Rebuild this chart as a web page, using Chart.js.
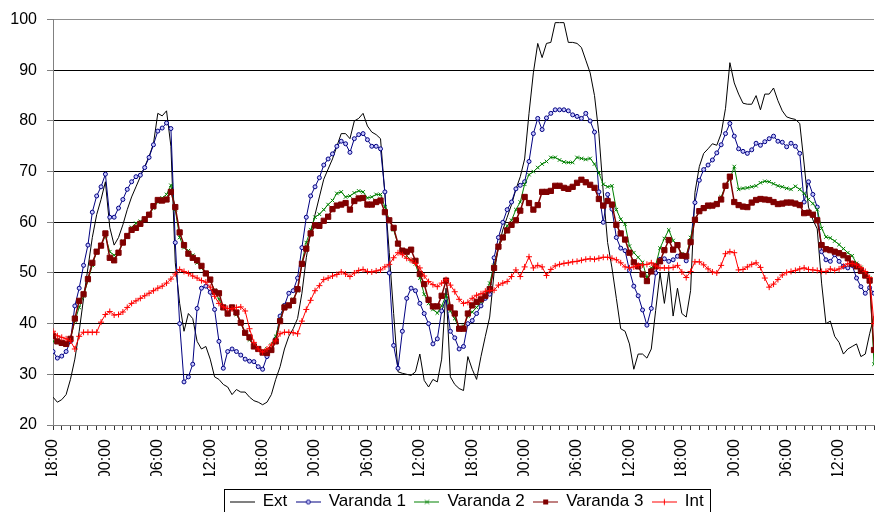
<!DOCTYPE html>
<html>
<head>
<meta charset="utf-8">
<title>Temperaturas</title>
<script src="https://cdn.jsdelivr.net/npm/chart.js@4/dist/chart.umd.min.js"></script>
<style>
  html, body { margin: 0; padding: 0; background: #ffffff; }
  #wrap { width: 879px; height: 512px; }
</style>
</head>
<body>
<div id="wrap"><canvas id="chart" width="879" height="512"></canvas></div>
<script>
// Sample times in hours since the first 18:00, one reading every 30 minutes
const hours = Array.from({ length: 189 }, (_, i) => i / 2);

// One label every 6 hours, starting at 18:00
const tickLabels = ['18:00', '00:00', '06:00', '12:00', '18:00', '00:00', '06:00', '12:00',
                    '18:00', '00:00', '06:00', '12:00', '18:00', '00:00', '06:00', '12:00'];

const seriesNames = ['Ext', 'Varanda 1', 'Varanda 2', 'Varanda 3', 'Int'];

const ext = [
  25.5, 24.5, 25, 26, 29, 33, 38.5, 45, 51, 57, 61.5, 64.5,
  68, 59, 55.5, 57, 59.5, 62.5, 65, 67, 69, 71, 73, 75.5,
  81.5, 81, 82, 75, 52, 44, 38.5, 42, 41, 36.5, 35, 35.5,
  33, 29.5, 29, 28, 27.5, 26, 27, 26.5, 26.5, 25.5, 24.8, 24.5,
  24, 24.5, 26, 29, 31.5, 35, 37.5, 39, 41, 46, 53, 58,
  61.5, 65, 68.5, 70.5, 72.5, 75, 77.5, 77.5, 76.5, 80, 80.5, 81.5,
  79, 77.8, 77.3, 76.5, 65.5, 54, 42, 30.5, 30.2, 30, 29.8, 30.5,
  34, 28.8, 27.5, 29, 28.5, 33, 47, 29.5, 28, 27.2, 26.8, 33.5,
  31, 29, 33.5, 37.5, 41.3, 50, 55, 58.5, 61, 63.5, 66.5, 69,
  72.5, 81.5, 89.5, 95.3, 92.5, 95.3, 95.5, 99.4, 99.4, 99.4, 95.5, 95.5,
  95.3, 94.5, 92, 89.5, 85, 77.5, 66, 56, 51, 45, 39, 38.5,
  36, 31, 34, 34, 33.2, 35, 42.6, 50, 44, 50.3, 41.5, 47,
  42, 41.3, 46.5, 65.9, 71, 73.6, 74.5, 75.5, 75.2, 77.5, 82.5, 91.5,
  87.5, 85.3, 83.5, 83.3, 83.3, 85, 82.2, 85.3, 85.3, 86.5, 84, 82,
  80.8, 80.5, 80.3, 79.5, 71.5, 63, 60.5, 58.7, 48, 40, 40.5, 37.5,
  36.3, 34, 35, 35.5, 36, 33.5, 34, 38, 41.5
];

const varanda1 = [
  34.5, 33.2, 33.6, 34.5, 36.5, 43.5, 47, 51.5, 55.5, 62, 65.2, 67,
  69.5, 61, 61, 62.8, 64.5, 66.5, 68, 69, 69.3, 70.8, 72.8, 75.3,
  78, 78.6, 79.6, 78.5, 56, 40, 28.5, 29.5, 32, 43, 47, 47.4,
  46.2, 42.8, 36.5, 31.2, 34.5, 35, 34.5, 33.8, 33, 32.6, 32.5, 31.5,
  31, 33.5, 34.8, 37, 41.5, 43.6, 46, 46.5, 49, 55, 61, 65.2,
  67, 68.8, 71.3, 72.5, 73.5, 75, 76, 75.5, 73.8, 76.5, 77.3, 77.5,
  76.3, 75, 75, 74.5, 66, 50, 35.7, 31.2, 38.5, 45, 47, 46.5,
  44, 42, 40, 36, 37, 42.5, 45, 38.5, 37.2, 35, 35.5, 40,
  40.6, 42, 43.5, 45, 45.8, 53, 57, 60, 62.5, 64, 66.6, 67.3,
  68, 72, 77.5, 80.5, 78.3, 80.6, 81.5, 82.2, 82.2, 82.2, 82, 81.2,
  80.9, 80.5, 81.5, 80, 77.8, 66, 60, 65.5, 62.6, 57, 54.9, 54.4,
  50.5, 47.4, 45.5, 42.7, 39.7, 43, 50, 52.7, 52.8, 52.3, 52.6, 53.3,
  53.5, 52.4, 56, 63.9, 68.3, 70.4, 71.3, 72.3, 73.7, 75.3, 77.5, 79.5,
  77, 74.5, 74, 73.6, 74.3, 75.6, 75.2, 75.9, 76.5, 77, 76, 75.8,
  74.9, 75.6, 75, 73.6, 64, 68, 65.5, 63, 54.2, 52.6, 52.3, 53.6,
  52.3, 51.3, 51, 51.5, 49, 47.3, 46, 47.1, 46
];

const varanda2 = [
  36.5, 36.3, 36, 36.3, 37, 40.5, 43.2, 45.5, 48.5, 51.5, 54.3, 55.5,
  57.3, 54.2, 53.5, 54, 56.3, 57.2, 59, 59.8, 60.2, 60.6, 61.5, 62.8,
  64, 64.8, 65.5, 67.3, 62.5, 57, 55, 54.4, 53.5, 52, 51, 49.8,
  48.5, 46.6, 44.8, 43.2, 42.1, 43, 41.8, 40.2, 38.1, 36.8, 35.7, 35,
  34.6, 35, 35.8, 37.5, 40.8, 43.5, 43.8, 44.8, 46.5, 52, 56, 58.5,
  61, 61.6, 62.5, 63.5, 64.3, 65.7, 66, 65, 65.2, 65.8, 66.2, 66,
  64.8, 65, 65.5, 65.5, 63, 60.5, 58.5, 55.7, 54.5, 53.4, 52.5, 51.8,
  49, 45.8, 44, 42.8, 42.1, 43.5, 45.5, 42.5, 41, 39, 39.5, 41.5,
  42.3, 43.2, 44.3, 45.6, 48, 51.5, 55, 57, 59.3, 60.4, 62.5, 64,
  67.5, 69.4, 70, 70.8, 71.5, 72, 72.8, 72.8, 72.3, 71.9, 71.8, 71.8,
  72.8, 72.6, 72.4, 72.6, 71.5, 69.7, 67.5, 67, 67.2, 62.5, 60.6, 59.6,
  55.3, 54, 53.1, 52.1, 49, 51, 51.5, 54.9, 56.8, 58.5, 56.4, 55.3,
  53.8, 53.2, 57, 60.7, 62, 62.6, 62.9, 63.4, 63.9, 65, 67.2, 68.5,
  71, 66.5, 66.7, 66.8, 67, 67.2, 67.8, 68.1, 68, 67.6, 67.2, 67,
  66.7, 66.5, 67.1, 66.5, 65.7, 64.5, 63.7, 62.5, 58.8, 57.1, 56.9, 56.3,
  55.6, 54.8, 54, 53.4, 51.9, 51.1, 50, 49, 32
];

const varanda3 = [
  37.6, 36.5, 36.2, 36, 37, 41, 44.5, 45.8, 48.8, 52, 54.2, 55.4,
  57.8, 53, 52.5, 54, 56, 57.3, 58.5, 58.9, 59.7, 60.6, 61.5, 63.2,
  64.4, 64.3, 64.5, 66, 63, 58, 55.5, 53.8, 53, 52.5, 51.4, 49.9,
  48.7, 46.3, 46, 43.2, 42, 43.2, 42.2, 40.2, 38.2, 37.3, 35.5, 35,
  34.3, 34.2, 34.8, 36.5, 40.5, 43.2, 43.6, 44.5, 46.8, 51.8, 54.8, 57.8,
  59.4, 59.3, 60.3, 61.1, 62.6, 63.3, 63.5, 63.8, 62.5, 64.2, 64.7, 64.8,
  63.5, 63.5, 64, 64.3, 62, 60.4, 58.9, 55.8, 54.4, 54.2, 54.6, 52.4,
  49.8, 47.8, 44.7, 43.4, 43.4, 45.5, 48.5, 43.2, 42, 39, 39, 42,
  43.6, 44.3, 44.8, 45.5, 46.8, 51, 55.2, 57, 58.4, 59.5, 60.4, 62.3,
  65, 63.8, 62.5, 63.4, 66, 66, 66.2, 67.2, 67.2, 66.8, 66.6, 67,
  67.8, 68.4, 67.9, 67.4, 66.8, 64.6, 63.3, 64.2, 63.5, 59.5, 57.8, 56.6,
  54, 52.1, 51.3, 49.7, 48.4, 50.3, 51.3, 52.3, 54.5, 56.5, 54.6, 55.5,
  53.4, 53.3, 56.1, 60.5, 62.2, 62.8, 63.3, 63.3, 63.6, 64.5, 67.2, 69,
  64, 63.4, 63.1, 63, 63.9, 64.4, 64.6, 64.5, 64.4, 64, 63.6, 63.7,
  63.9, 63.9, 63.7, 63.4, 61.8, 61.9, 61.5, 60.4, 55.5, 54.7, 54.5, 54.2,
  53.9, 53.5, 52.9, 51.8, 51.3, 50.4, 49.5, 48.5, 34.8
];

const interior = [
  38.5, 37.6, 37.3, 37, 36.6, 35, 37.5, 38.3, 38.3, 38.3, 38.3, 40.3,
  41.8, 42.4, 41.7, 41.8, 42.3, 43.2, 44, 44.5, 45, 45.5, 46, 46.5,
  47, 47.4, 48, 48.8, 49.8, 50.7, 50.3, 49.9, 49.4, 49, 48.5, 48.2,
  47.2, 45.4, 44, 43.3, 43, 42.9, 43.2, 43.3, 42.5, 39, 36.3, 35,
  34.4, 35, 35.8, 36.6, 38, 38.3, 38.3, 38.2, 38, 40.5, 42.8, 44.6,
  46.5, 47.5, 48.7, 49, 49.4, 49.7, 50.2, 49.8, 49.3, 50, 50.5, 50.7,
  50.3, 50.2, 50.4, 50.6, 51.2, 51.7, 53, 54, 53.6, 52.9, 52.5, 51.9,
  51, 49.4, 48.3, 47.7, 47.3, 48, 48.7, 47.6, 46.3, 44.8, 44, 44.2,
  45, 45.6, 45.9, 46.4, 46.5, 46.6, 47.6, 48, 48.3, 49.3, 50.6, 49.3,
  51.2, 53.2, 51, 51.5, 51.2, 49.5, 50.7, 51.4, 51.7, 51.9, 52, 52.2,
  52.3, 52.5, 52.7, 52.8, 52.7, 52.9, 53.1, 53.1, 52.9, 52.6, 52, 51.2,
  51, 51.2, 51.5, 51.6, 51.7, 52, 51.4, 51, 51, 51, 51.1, 51.5,
  50.2, 49.1, 50.3, 52.2, 52.2, 51.6, 50.8, 50.2, 50, 51.5, 53.8, 54.2,
  54, 50.6, 50.7, 51.2, 51.7, 52, 51.1, 49, 47.2, 47.8, 48.7, 49.6,
  50.1, 50.3, 50.5, 50.8, 51, 50.7, 50.6, 50.5, 50.3, 50.3, 50.8, 50.5,
  50.8, 51.3, 51.8, 51.9, 51.6, 51.1, 50.3, 49.1, 40
];

const FONT = "'Liberation Sans', Arial, Helvetica, sans-serif";
Chart.defaults.font.family = FONT;
Chart.defaults.color = '#000000';

const toPoints = vals => vals.map((v, i) => ({ x: hours[i], y: v }));

// Series appearance: line colour, marker style
const looks = [
  { color: '#000000', marker: null,       width: 1,   radius: 0,   fill: '#000000' },
  { color: '#000080', marker: 'circle',   width: 1,   radius: 2,   fill: '#c8c8ff' },
  { color: '#008000', marker: 'crossRot', width: 1,   radius: 2.5, fill: '#008000' },
  { color: '#800000', marker: 'rect',     width: 1.5, radius: 3.7, fill: '#800000' },
  { color: '#ff0000', marker: 'cross',    width: 1,   radius: 3,   fill: '#ff0000' }
];
const values = [ext, varanda1, varanda2, varanda3, interior];

// Small legend swatch: a line segment with the series marker in the middle
function swatch(look) {
  const c = document.createElement('canvas');
  c.width = 25; c.height = 12;
  const g = c.getContext('2d');
  g.strokeStyle = look.color;
  g.lineWidth = 1;
  g.beginPath(); g.moveTo(0, 6.5); g.lineTo(25, 6.5); g.stroke();
  const cx = 12.5, cy = 6.5;
  g.fillStyle = look.fill;
  if (look.marker === 'circle') {
    g.beginPath(); g.arc(cx, cy, 2, 0, Math.PI * 2); g.fill(); g.stroke();
  } else if (look.marker === 'crossRot') {
    g.beginPath(); g.moveTo(cx - 2, cy - 2); g.lineTo(cx + 2, cy + 2);
    g.moveTo(cx + 2, cy - 2); g.lineTo(cx - 2, cy + 2); g.stroke();
  } else if (look.marker === 'rect') {
    g.fillRect(cx - 2.5, cy - 2.5, 5, 5);
  } else if (look.marker === 'cross') {
    g.beginPath(); g.moveTo(cx - 3, cy); g.lineTo(cx + 3, cy);
    g.moveTo(cx, cy - 3); g.lineTo(cx, cy + 3); g.stroke();
  }
  return c;
}

const datasets = seriesNames.map((name, i) => ({
  label: name,
  data: toPoints(values[i]),
  borderColor: looks[i].color,
  backgroundColor: looks[i].fill,
  borderWidth: looks[i].width,
  pointStyle: looks[i].marker || 'circle',
  pointRadius: looks[i].radius,
  pointBorderWidth: 1,
  pointBorderColor: looks[i].color,
  pointBackgroundColor: looks[i].fill,
  tension: 0,
  fill: false,
  order: seriesNames.length - i
}));

// Legend placement and frame
const legendShift = { x: 23, y: 8 };
const legendFrame = {
  id: 'legendFrame',
  afterLayout(chart) {
    const lg = chart.legend;
    lg.left += legendShift.x; lg.right += legendShift.x;
    lg.top += legendShift.y; lg.bottom += legendShift.y;
  },
  afterDraw(chart) {
    const lg = chart.legend;
    const pad = lg.options.labels.padding;
    const rowW = lg.lineWidths[0];
    const x0 = (lg.left + pad + lg.right - rowW) / 2;
    const x1 = x0 + rowW - pad;
    const cy = lg.top + pad + 8.5;
    const ctx = chart.ctx;
    ctx.save();
    ctx.strokeStyle = '#000000';
    ctx.lineWidth = 1;
    ctx.strokeRect(Math.round(x0 - 6) + 0.5, Math.round(cy - 12.5) + 0.5,
                   Math.round(x1 - x0 + 12), 40);
    ctx.restore();
  }
};

new Chart(document.getElementById('chart'), {
  type: 'line',
  data: { datasets },
  plugins: [legendFrame],
  options: {
    responsive: false,
    animation: false,
    devicePixelRatio: 1,
    layout: { padding: { left: 10, right: 1, top: 15, bottom: 0 } },
    plugins: {
      tooltip: { enabled: false },
      legend: {
        position: 'bottom',
        labels: {
          usePointStyle: true,
          pointStyleWidth: 24,
          padding: 9,
          color: '#000000',
          font: { size: 17, family: FONT },
          generateLabels: chart => chart.data.datasets.map((ds, i) => ({
            text: ds.label,
            pointStyle: swatch(looks[i]),
            fillStyle: looks[i].fill,
            strokeStyle: looks[i].color,
            lineWidth: 0,
            hidden: false,
            datasetIndex: i,
            fontColor: '#000000'
          }))
        }
      }
    },
    scales: {
      x: {
        type: 'linear',
        min: 0,
        max: 94,
        border: { color: '#808080', width: 1 },
        grid: { drawOnChartArea: false, drawTicks: true, tickLength: 5, tickColor: '#333333' },
        ticks: {
          stepSize: 1,
          autoSkip: false,
          minRotation: 90,
          maxRotation: 90,
          padding: 9,
          color: '#000000',
          font: { size: 16, family: FONT },
          callback: v => (v % 6 === 0 ? tickLabels[v / 6] : '')
        },
        afterFit: s => { s.height = 51; s.paddingLeft = 0; s.paddingRight = 0; }
      },
      y: {
        min: 20,
        max: 100,
        border: { color: '#808080', width: 1 },
        grid: {
          color: c => (c.tick && (c.tick.value === 100 || c.tick.value === 20) ? '#909090' : '#000000'),
          tickLength: 6,
          tickColor: '#808080'
        },
        ticks: {
          stepSize: 10,
          padding: 10,
          color: '#000000',
          font: { size: 16, family: FONT }
        },
        afterFit: s => { s.width = 43; }
      }
    }
  }
});
</script>
</body>
</html>
